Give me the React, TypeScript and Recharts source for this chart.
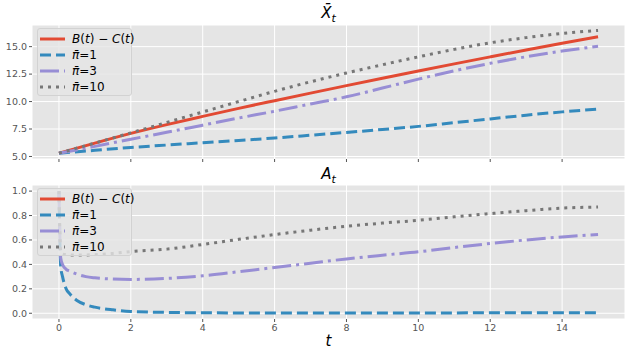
import React from 'react';
import { LineChart, Line, XAxis, YAxis, CartesianGrid } from 'recharts';

// top panel: mean wealth X̄_t
const tTop = [0, 1, 2, 3, 4, 5, 6, 7, 8, 9, 10, 11, 12, 13, 14, 15];
const xbarBC = [5.3, 6.22, 7.1, 7.9, 8.65, 9.38, 10.08, 10.77, 11.45, 12.12, 12.78, 13.43, 14.07, 14.7, 15.31, 15.9];
const xbarN1 = [5.3, 5.56, 5.82, 6.04, 6.25, 6.46, 6.68, 6.93, 7.19, 7.46, 7.74, 8.08, 8.42, 8.76, 9.06, 9.32];
const xbarN3 = [5.3, 5.92, 6.57, 7.2, 7.85, 8.5, 9.12, 9.78, 10.43, 11.23, 12.04, 12.8, 13.48, 14.08, 14.6, 15.03];
const xbarN10 = [5.3, 6.22, 7.15, 8.1, 9.05, 10.0, 10.93, 11.8, 12.6, 13.35, 14.07, 14.75, 15.35, 15.82, 16.2, 16.48];

// bottom panel: A_t
const tBottom = [0, 0.05, 0.1, 0.2, 0.3, 0.5, 0.75, 1, 1.5, 2, 3, 4, 5, 6, 7, 8, 9, 10, 11, 12, 13, 14, 15];
const aN1 = [1.0, 0.38, 0.3, 0.2, 0.16, 0.105, 0.07, 0.05, 0.028, 0.015, 0.007, 0.004, 0.003, 0.003, 0.003, 0.003, 0.003, 0.003, 0.003, 0.004, 0.004, 0.005, 0.005];
const aN3 = [1.0, 0.45, 0.4, 0.36, 0.345, 0.32, 0.3, 0.29, 0.28, 0.277, 0.285, 0.307, 0.34, 0.375, 0.41, 0.445, 0.475, 0.503, 0.538, 0.571, 0.6, 0.625, 0.644];
const aN10 = [1.0, 0.5, 0.485, 0.48, 0.478, 0.476, 0.477, 0.48, 0.49, 0.505, 0.525, 0.563, 0.605, 0.644, 0.68, 0.712, 0.738, 0.761, 0.79, 0.816, 0.84, 0.861, 0.87];

const xTicks = [0, 2, 4, 6, 8, 10, 12, 14];
const topYTicks = [5, 7.5, 10, 12.5, 15];
const bottomYTicks = [0, 0.2, 0.4, 0.6, 0.8, 1.0];

const topData = tTop.map((t, i) => ({ t, bc: xbarBC[i], n1: xbarN1[i], n3: xbarN3[i], n10: xbarN10[i] }));
const bottomData = tBottom.map((t, i) => ({ t, n1: aN1[i], n3: aN3[i], n10: aN10[i] }));

const RED = '#E24A33';
const BLUE = '#348ABD';
const PURPLE = '#988ED5';
const GRAY = '#777777';

const series = [
  { key: 'bc', color: RED, dash: undefined as string | undefined },
  { key: 'n1', color: BLUE, dash: '11 5' },
  { key: 'n3', color: PURPLE, dash: '19 5 3 5' },
  { key: 'n10', color: GRAY, dash: '3 5' },
];

const math: React.CSSProperties = { fontFamily: '"DejaVu Sans", sans-serif', fontStyle: 'italic' };
const roman: React.CSSProperties = { fontFamily: '"DejaVu Sans", sans-serif', fontStyle: 'normal' };

const PiBar = ({ n }: { n: number }) => (
  <span>
    <span style={math}>π̄</span>
    <span style={roman}>={n}</span>
  </span>
);

const labels = [
  <span key="bc">
    <span style={math}>B</span><span style={roman}>(</span><span style={math}>t</span><span style={roman}>) − </span>
    <span style={math}>C</span><span style={roman}>(</span><span style={math}>t</span><span style={roman}>)</span>
  </span>,
  <PiBar key="1" n={1} />,
  <PiBar key="3" n={3} />,
  <PiBar key="10" n={10} />,
];

const LegendBox = ({ top }: { top: number }) => (
  <div
    style={{
      position: 'absolute',
      left: 37,
      top,
      width: 95,
      height: 68,
      background: 'rgba(229,229,229,0.8)',
      border: '1px solid #d2d2d2',
      borderRadius: 3,
      paddingTop: 2,
      boxSizing: 'border-box',
    }}
  >
    {series.map((s, i) => (
      <div key={s.key} style={{ display: 'flex', alignItems: 'center', height: 16 }}>
        <svg width={32} height={16} style={{ display: 'block', flexShrink: 0 }}>
          <line x1={2} x2={27} y1={8} y2={8} stroke={s.color} strokeWidth={3} strokeDasharray={s.dash} />
        </svg>
        <span style={{ marginLeft: 2, fontSize: 12, color: '#000', whiteSpace: 'nowrap' }}>{labels[i]}</span>
      </div>
    ))}
  </div>
);

const tickStyle = { fill: '#555555', fontSize: 9.5, fontFamily: '"DejaVu Sans", sans-serif' };

const App = () => (
  <div style={{ position: 'absolute', left: 0, top: 0, width: 632, height: 356, background: '#fff' }}>
    <div style={{ position: 'absolute', top: 0 }}>
      <LineChart width={632} height={170} data={topData} margin={{ top: 25, right: 7, left: 0, bottom: 0 }}>
        <CartesianGrid stroke="#ffffff" strokeWidth={1} fill="#E5E5E5" />
        <XAxis
          dataKey="t"
          type="number"
          domain={[-0.75, 15.75]}
          ticks={xTicks}
          height={11}
          axisLine={false}
          tickSize={3}
          tickLine={{ stroke: '#555555' }}
          tickFormatter={() => ''}
          allowDataOverflow
        />
        <YAxis
          type="number"
          domain={[4.77, 16.97]}
          ticks={topYTicks}
          width={32}
          axisLine={false}
          tickSize={3}
          tickLine={{ stroke: '#555555' }}
          tick={tickStyle}
          tickFormatter={(v: number) => v.toFixed(1)}
          allowDataOverflow
        />
        {series.map((s) => (
          <Line
            key={s.key}
            type="monotone"
            dataKey={s.key}
            stroke={s.color}
            strokeWidth={3}
            strokeDasharray={s.dash}
            dot={false}
            isAnimationActive={false}
          />
        ))}
      </LineChart>
    </div>
    <div style={{ position: 'absolute', top: 170 }}>
      <LineChart width={632} height={186} data={bottomData} margin={{ top: 15, right: 7, left: 0, bottom: 0 }}>
        <CartesianGrid stroke="#ffffff" strokeWidth={1} fill="#E5E5E5" />
        <XAxis
          dataKey="t"
          type="number"
          domain={[-0.75, 15.75]}
          ticks={xTicks}
          height={37}
          axisLine={false}
          tickSize={3}
          tickLine={{ stroke: '#555555' }}
          tick={tickStyle}
          allowDataOverflow
        />
        <YAxis
          type="number"
          domain={[-0.047, 1.05]}
          ticks={bottomYTicks}
          width={32}
          axisLine={false}
          tickSize={3}
          tickLine={{ stroke: '#555555' }}
          tick={tickStyle}
          tickFormatter={(v: number) => v.toFixed(1)}
          allowDataOverflow
        />
        {series.slice(1).map((s) => (
          <Line
            key={s.key}
            type="monotone"
            dataKey={s.key}
            stroke={s.color}
            strokeWidth={3}
            strokeDasharray={s.dash}
            dot={false}
            isAnimationActive={false}
          />
        ))}
      </LineChart>
    </div>

    <LegendBox top={28} />
    <LegendBox top={188} />

    <div style={{ position: 'absolute', left: 0, width: 657, top: 3, textAlign: 'center', fontSize: 15, lineHeight: '20px' }}>
      <span style={math}>X̄</span>
      <sub style={{ ...math, fontSize: 11 }}>t</sub>
    </div>
    <div style={{ position: 'absolute', left: 0, width: 657, top: 164, textAlign: 'center', fontSize: 15, lineHeight: '20px' }}>
      <span style={math}>A</span>
      <sub style={{ ...math, fontSize: 11 }}>t</sub>
    </div>
    <div style={{ position: 'absolute', left: 0, width: 657, top: 331, textAlign: 'center', fontSize: 15, lineHeight: '20px' }}>
      <span style={math}>t</span>
    </div>
  </div>
);

export default App;
